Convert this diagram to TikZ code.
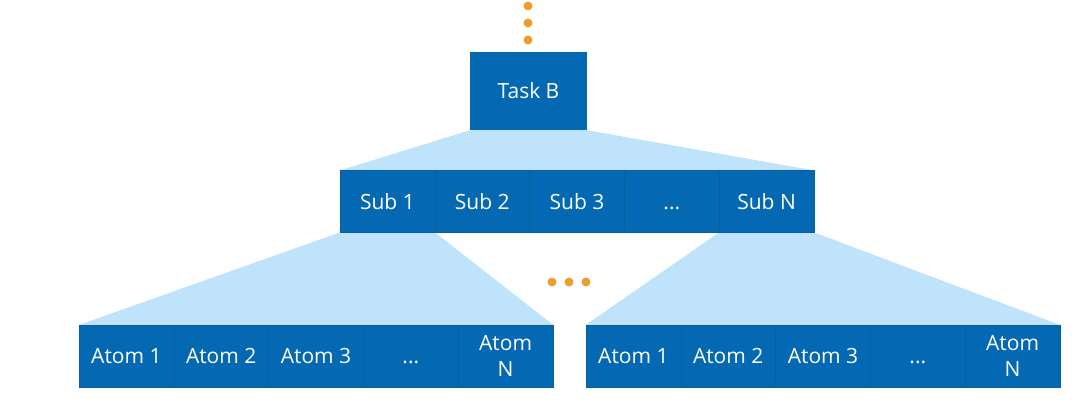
\documentclass[tikz,border=0pt]{standalone}
\usepackage{fontspec}
\setmainfont{Open Sans}
\usetikzlibrary{backgrounds}
\definecolor{dblue}{HTML}{0469B2}
\definecolor{lblue}{HTML}{BEE3FA}
\definecolor{divc}{HTML}{0B5E9C}
\definecolor{dorange}{HTML}{EE9E2E}
\begin{document}
\begin{tikzpicture}[x=1pt,y=-1pt,
  cell/.style={draw=divc, line width=0.5pt, fill=dblue, text=white, minimum width=94.8pt, minimum height=61.5pt, inner sep=0pt, align=center, font=\fontsize{21}{26}\selectfont},
  taskbox/.style={fill=dblue, text=white, minimum width=117pt, minimum height=78pt, inner sep=0pt, font=\fontsize{21}{26}\selectfont},
  dot/.style={circle, fill=dorange, minimum size=9pt, inner sep=0pt},
  fan/.style={fill=lblue}]
\useasboundingbox (0,0) rectangle (1086,406);
% dots on top
\node[dot] (t1) at (528,6) {};
\node[dot] (t2) at (528,23) {};
\node[dot] (t3) at (528,40) {};
% task
\node[taskbox] (task) at (528.5,91) {Task B};
% sub row
\node[cell] (s1) at (387.4,201.5) {Sub 1};
\node[cell] (s2) at (482.2,201.5) {Sub 2};
\node[cell] (s3) at (577.0,201.5) {Sub 3};
\node[cell] (s4) at (671.8,201.5) {\vphantom{Sub 1}...};
\node[cell] (s5) at (766.6,201.5) {Sub N};
% left atoms
\node[cell] (a1) at (126.4,356) {Atom 1};
\node[cell] (a2) at (221.2,356) {Atom 2};
\node[cell] (a3) at (316.0,356) {Atom 3};
\node[cell] (a4) at (410.8,356) {\vphantom{Atom 1}...};
\node[cell] (a5) at (505.6,356) {Atom\\N};
% right atoms
\node[cell] (b1) at (633.4,356) {Atom 1};
\node[cell] (b2) at (728.2,356) {Atom 2};
\node[cell] (b3) at (823.0,356) {Atom 3};
\node[cell] (b4) at (917.8,356) {\vphantom{Atom 1}...};
\node[cell] (b5) at (1012.6,356) {Atom\\N};
% middle dots
\node[dot] (m1) at (552,282) {};
\node[dot] (m2) at (569,282) {};
\node[dot] (m3) at (586,282) {};
\begin{scope}[on background layer]
\fill[fan] (task.south west) -- (task.south east) -- (s5.north east) -- (s1.north west) -- cycle;
\fill[fan] (s1.south west) -- (s1.south east) -- (a5.north east) -- (a1.north west) -- cycle;
\fill[fan] (s5.south west) -- (s5.south east) -- (b5.north east) -- (b1.north west) -- cycle;
\end{scope}
\end{tikzpicture}
\end{document}
